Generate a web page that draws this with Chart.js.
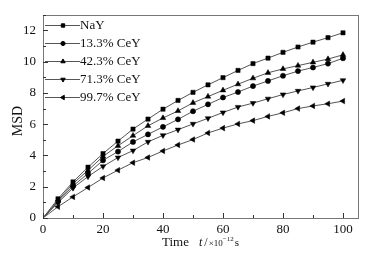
<!DOCTYPE html>
<html><head><meta charset="utf-8">
<script src="https://cdn.jsdelivr.net/npm/chart.js@4/dist/chart.umd.min.js"></script>
<style>html,body{margin:0;padding:0;background:#fff}#wrap{width:386px;height:256px}</style>
</head><body><div id="wrap"><canvas id="c"></canvas></div>
<script>
const times = [0,5,10,15,20,25,30,35,40,45,50,55,60,65,70,75,80,85,90,95,100];
const seriesNames = ['NaY','13.3% CeY','42.3% CeY','71.3% CeY','99.7% CeY'];
const nay   = [0,1.23,2.31,3.25,4.12,4.92,5.69,6.33,6.96,7.52,8.04,8.52,8.98,9.44,9.88,10.23,10.6,10.94,11.25,11.54,11.85];
const ce133 = [0,1.05,2.05,2.85,3.69,4.25,4.87,5.35,5.83,6.31,6.83,7.27,7.71,8.06,8.44,8.77,9.1,9.4,9.63,9.88,10.22];
const ce423 = [0,1.12,2.2,3.05,3.94,4.62,5.27,5.9,6.4,6.85,7.37,7.77,8.17,8.56,8.94,9.29,9.54,9.75,9.96,10.17,10.44];
const ce713 = [0,0.98,1.92,2.65,3.3,3.87,4.31,4.87,5.29,5.65,6.02,6.38,6.75,7.1,7.35,7.63,7.9,8.13,8.35,8.58,8.81];
const ce997 = [0,0.72,1.35,1.95,2.56,3.06,3.54,3.87,4.29,4.67,5.02,5.44,5.75,6.02,6.23,6.5,6.73,7.0,7.17,7.31,7.48];
const xTickLabels = ['0','20','40','60','80','100'];
const yTickLabels = ['0','2','4','6','8','10','12'];

const SERIF = '"Liberation Serif","DejaVu Serif",serif';
const styles = [
  {pointStyle:'rect', rotation:0, r:3.0},
  {pointStyle:'circle', rotation:0, r:2.6},
  {pointStyle:'triangle', rotation:0, r:3.2},
  {pointStyle:'triangle', rotation:180, r:3.2},
  {pointStyle:'triangle', rotation:-90, r:3.2}
];
const allData = [nay, ce133, ce423, ce713, ce997];
const datasets = allData.map((d,i)=>({
  label: seriesNames[i],
  data: times.map((t,j)=>({x:t,y:d[j]})),
  borderColor:'#555', borderWidth:1,
  pointBackgroundColor: times.map(t=>t===0?'rgba(0,0,0,0)':'#000'),
  pointBorderColor: times.map(t=>t===0?'rgba(0,0,0,0)':'#000'),
  pointBorderWidth:0.5,
  pointStyle: styles[i].pointStyle,
  pointRotation: styles[i].rotation,
  pointRadius: styles[i].r,
  tension:0
}));

const deco = {
  id:'deco',
  afterDraw(chart){
    const ctx = chart.ctx, a = chart.chartArea;
    const xs = chart.scales.x, ys = chart.scales.y;
    ctx.save();
    ctx.strokeStyle = '#777'; ctx.lineWidth = 1;
    ctx.strokeRect(Math.round(a.left)+0.5, Math.round(a.top)+0.5, Math.round(a.right-a.left), Math.round(a.bottom-a.top));
    ctx.strokeStyle = '#333';
    ctx.beginPath();
    for (let v=0; v<=100; v+=10){
      const px = Math.round(xs.getPixelForValue(v))+0.5;
      const len = (v%20===0)?5:3;
      ctx.moveTo(px, a.bottom); ctx.lineTo(px, a.bottom-len);
    }
    for (let v=0; v<=13; v+=1){
      const py = Math.round(ys.getPixelForValue(v))+0.5;
      const len = (v%2===0)?5:3;
      ctx.moveTo(a.left, py); ctx.lineTo(a.left+len, py);
    }
    ctx.stroke();
    // x title, laid out sequentially
    ctx.fillStyle = '#111';
    ctx.textBaseline = 'alphabetic'; ctx.textAlign = 'left';
    ctx.font = '13px ' + SERIF;
    ctx.fillText('Time', 162, 246);
    const parts = [
      ['italic 12px ', 't', 0, 2],
      ['12px ', '/', 0, 1],
      ['9px ', '\u00d710', 0, 0],
      ['7px ', '\u221212', -5, 1],
      ['11px ', 's', 0, 0]
    ];
    let cx = 199;
    parts.forEach(p=>{
      ctx.font = p[0] + SERIF;
      ctx.fillText(p[1], cx, 246 + p[2]);
      cx += ctx.measureText(p[1]).width + p[3];
    });
    ctx.save();
    ctx.translate(22, 121); ctx.rotate(-Math.PI/2);
    ctx.textAlign='center'; ctx.font = '14px ' + SERIF;
    ctx.fillText('MSD', 0, 0);
    ctx.restore();
    chart.data.datasets.forEach((ds,i)=>{
      const y = 25 + i*18;
      ctx.strokeStyle = '#555'; ctx.lineWidth = 1;
      ctx.beginPath(); ctx.moveTo(45, y+0.5); ctx.lineTo(80, y+0.5); ctx.stroke();
      ctx.fillStyle = '#000'; ctx.strokeStyle='#000';
      Chart.helpers.drawPoint(ctx, {pointStyle: ds.pointStyle, rotation: ds.pointRotation, radius: ds.pointRadius*0.8, borderWidth:0.5}, 63, y+0.5);
      ctx.fillStyle = '#111';
      ctx.font = '13px ' + SERIF; ctx.textAlign='left'; ctx.textBaseline='middle';
      ctx.fillText(ds.label, 80, y+1);
    });
    ctx.restore();
  }
};

new Chart(document.getElementById('c'), {
  type:'line',
  data:{datasets},
  options:{
    responsive:true, maintainAspectRatio:false, animation:false,
    layout:{padding:{top:11, right:28, left:0, bottom:0}},
    plugins:{legend:{display:false}, tooltip:{enabled:false}},
    elements:{point:{hoverRadius:3}},
    scales:{
      x:{type:'linear', min:0, max:105,
        afterFit(s){ s.height = 38; },
        afterBuildTicks(s){ s.ticks = xTickLabels.map(l=>({value:Number(l)})); },
        grid:{display:false, drawTicks:false}, border:{display:false},
        ticks:{padding:4, color:'#111', autoSkip:false, maxRotation:0, font:{family:SERIF, size:13},
          callback:(v)=> xTickLabels[v/20] }
      },
      y:{type:'linear', min:0, max:13,
        afterFit(s){ s.width = 43; },
        afterBuildTicks(s){ s.ticks = yTickLabels.map(l=>({value:Number(l)})); },
        grid:{display:false, drawTicks:false}, border:{display:false},
        ticks:{padding:7, color:'#111', autoSkip:false, font:{family:SERIF, size:13},
          callback:(v)=> yTickLabels[v/2] }
      }
    }
  },
  plugins:[deco]
});
</script></body></html>
